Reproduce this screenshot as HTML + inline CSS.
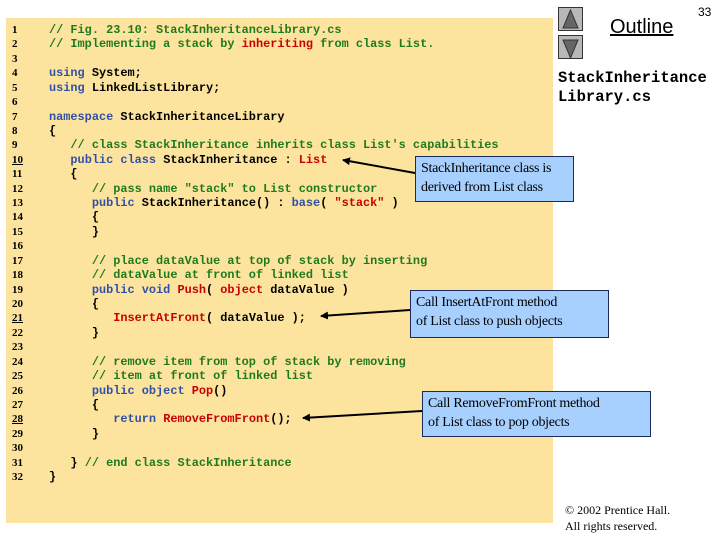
<!DOCTYPE html>
<html><head><meta charset="utf-8"><style>
body{margin:0;width:720px;height:540px;background:#fff;position:relative;overflow:hidden;font-family:"Liberation Sans",sans-serif}
.panel{position:absolute;left:6px;top:18px;width:547px;height:505px;background:#fde49e}
.code{position:absolute;left:49px;top:23px;font:bold 11.9px/14.42px "Liberation Mono",monospace;color:#000;white-space:pre;margin:0}
.ln{position:absolute;left:12px;top:23px;font:bold 11px/14.42px "Liberation Serif",serif;color:#000;white-space:pre;margin:0}
.c{color:#1f7a1f}.k{color:#3050a8}.r{color:#c80000}
.box{position:absolute;background:#a7d0ff;border:1px solid #1a2a5a;font:14px/19px "Liberation Serif",serif;color:#000;padding:2px 5px;box-sizing:border-box;white-space:nowrap;letter-spacing:-0.3px}
.btn{position:absolute;left:558px;width:25px;height:24px;background:#b8b8b8;border:1px solid #333;box-sizing:border-box}
</style></head><body>
<div class="panel"></div>
<pre class="ln">1
2
3
4
5
6
7
8
9
<u>10</u>
11
12
13
14
15
16
17
18
19
20
<u>21</u>
22
23
24
25
26
27
<u>28</u>
29
30
31
32</pre>
<pre class="code"><span class="c">// Fig. 23.10: StackInheritanceLibrary.cs</span>
<span class="c">// Implementing a stack by <span class="r">inheriting</span> from class List.</span>

<span class="k">using</span> System;
<span class="k">using</span> LinkedListLibrary;

<span class="k">namespace</span> StackInheritanceLibrary
{
   <span class="c">// class StackInheritance inherits class List's capabilities</span>
   <span class="k">public class</span> StackInheritance : <span class="r">List</span>
   {
      <span class="c">// pass name "stack" to List constructor</span>
      <span class="k">public</span> StackInheritance() : <span class="k">base</span>( <span class="r">"stack"</span> )
      {
      }

      <span class="c">// place dataValue at top of stack by inserting</span>
      <span class="c">// dataValue at front of linked list</span>
      <span class="k">public void</span> <span class="r">Push</span>( <span class="r">object</span> dataValue )
      {
         <span class="r">InsertAtFront</span>( dataValue );
      }

      <span class="c">// remove item from top of stack by removing</span>
      <span class="c">// item at front of linked list</span>
      <span class="k">public object</span> <span class="r">Pop</span>()
      {
         <span class="k">return</span> <span class="r">RemoveFromFront</span>();
      }

   } <span class="c">// end class StackInheritance</span>
}</pre>
<div class="btn" style="top:7px"></div>
<div class="btn" style="top:35px"></div>
<svg style="position:absolute;left:0;top:0" width="720" height="540">
<defs><marker id="a" markerWidth="8" markerHeight="8" refX="7" refY="4" orient="auto" markerUnits="userSpaceOnUse"><path d="M0,0 L8,4 L0,8 z" fill="#000"/></marker></defs>
<line x1="415" y1="173" x2="343" y2="160" stroke="#000" stroke-width="2" marker-end="url(#a)"/>
<line x1="410" y1="310" x2="321" y2="316" stroke="#000" stroke-width="2" marker-end="url(#a)"/>
<line x1="422" y1="411" x2="303" y2="418" stroke="#000" stroke-width="2" marker-end="url(#a)"/>
<polygon points="570.5,10 563,28 578,28" fill="#666" stroke="#333"/>
<polygon points="563,40 578,40 570.5,58" fill="#666" stroke="#333"/>
</svg>
<div class="box" style="left:415px;top:156px;width:159px;height:46px">StackInheritance class is<br>derived from List class</div>
<div class="box" style="left:410px;top:290px;width:199px;height:48px">Call InsertAtFront method<br>of List class to push objects</div>
<div class="box" style="left:422px;top:391px;width:229px;height:46px">Call RemoveFromFront method<br>of List class to pop objects</div>
<div style="position:absolute;left:610px;top:16px;font-size:20px;text-decoration:underline;color:#000">Outline</div>
<div style="position:absolute;left:698px;top:5px;font:12px 'Liberation Sans',sans-serif">33</div>
<div style="position:absolute;left:558px;top:69px;font:bold 15.5px/19px 'Liberation Mono',monospace;white-space:pre">StackInheritance
Library.cs</div>
<div style="position:absolute;left:565px;top:502px;font:12px/16px 'Liberation Serif',serif">© 2002 Prentice Hall.<br>All rights reserved.</div>
</body></html>
